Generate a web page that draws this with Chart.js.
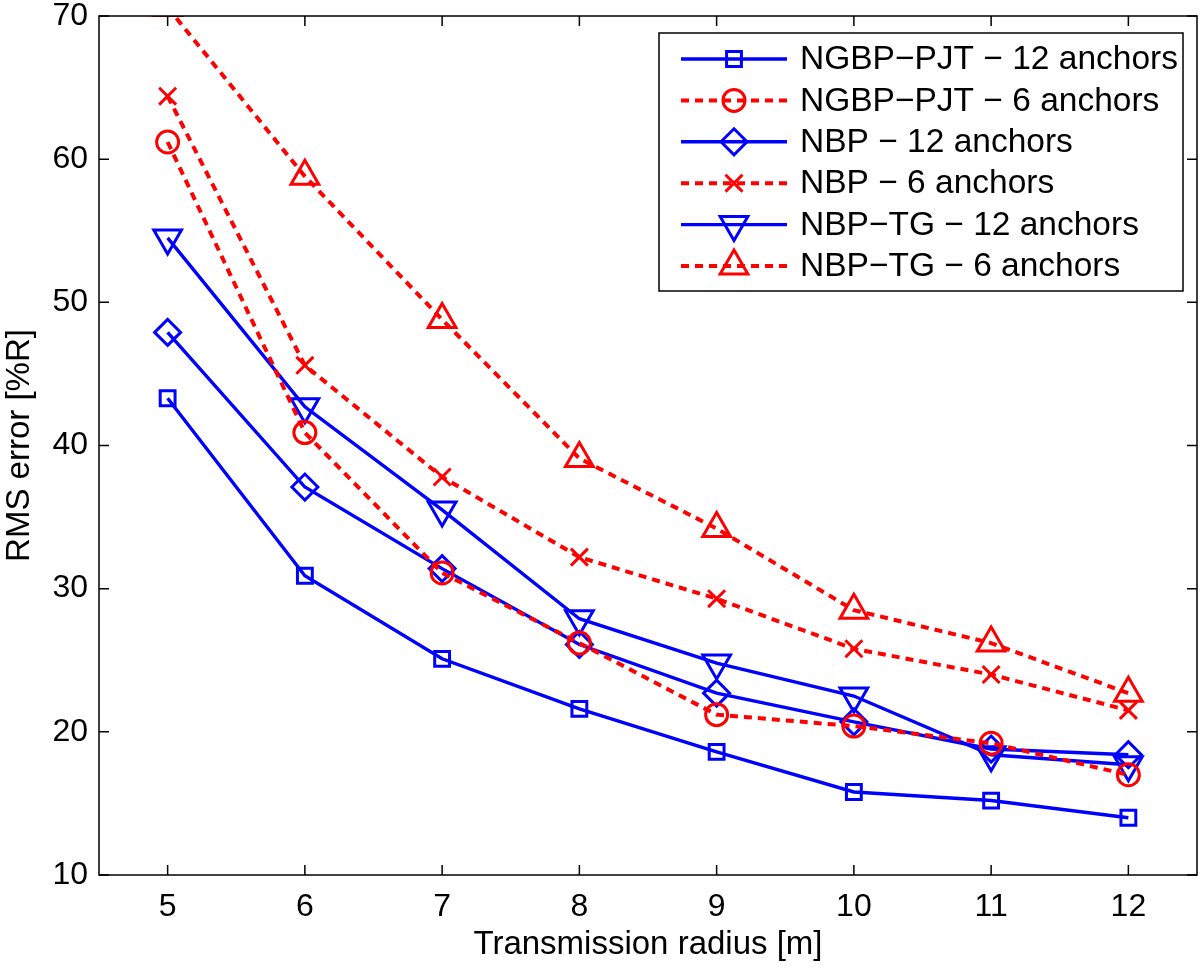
<!DOCTYPE html>
<html>
<head>
<meta charset="utf-8">
<script src="https://cdn.jsdelivr.net/npm/chart.js@4.4.0/dist/chart.umd.min.js"></script>
<style>
  html, body { margin: 0; padding: 0; background: #fff; overflow: hidden; }
  #wrap { width: 1200px; height: 972px; }
  #rms-chart { display: block; }
</style>
</head>
<body>
<div id="wrap"><canvas id="rms-chart"></canvas></div>
<script>
"use strict";

// data ---------------------------------------------
const radius = [5, 6, 7, 8, 9, 10, 11, 12];
const ngbpPjt12 = [43.3, 30.9, 25.1, 21.6, 18.6, 15.8, 15.2, 14.0];
const ngbpPjt6 = [61.2, 40.9, 31.1, 26.2, 21.2, 20.4, 19.2, 17.0];
const nbp12 = [47.9, 37.1, 31.4, 26.1, 22.7, 20.7, 18.8, 18.4];
const nbp6 = [64.4, 45.6, 37.8, 32.2, 29.3, 25.8, 24.0, 21.5];
const nbpTg12 = [54.5, 42.7, 35.5, 27.9, 24.8, 22.5, 18.4, 17.7];
const nbpTg6 = [70.6, 58.8, 48.8, 39.1, 34.2, 28.5, 26.2, 22.7];

const xTicks = [5, 6, 7, 8, 9, 10, 11, 12];
const yTicks = [10, 20, 30, 40, 50, 60, 70];

const FONT = '"Liberation Sans", Arial, Helvetica, sans-serif';
const BLUE = "#0000ff";
const RED = "#ff0000";

function makeSeries(label, values, color, dashed, style, size, rotation) {
  return {
    label: label,
    data: values.map(function (v, i) {
      return { x: radius[i], y: v };
    }),
    borderColor: color,
    borderWidth: dashed ? 4 : 3.4,
    borderDash: dashed ? [8, 6] : [],
    pointStyle: style,
    pointRadius: size,
    pointRotation: rotation || 0,
    pointBorderColor: color,
    pointBackgroundColor: "rgba(0,0,0,0)",
    pointBorderWidth: 3,
    tension: 0,
    clip: 0,
  };
}

const datasets = [
  makeSeries("NGBP\u2212PJT \u2212 12 anchors", ngbpPjt12, BLUE, false, "rect", 10.5),
  makeSeries("NGBP\u2212PJT \u2212 6 anchors", ngbpPjt6, RED, true, "circle", 11),
  makeSeries("NBP \u2212 12 anchors", nbp12, BLUE, false, "rectRot", 13),
  makeSeries("NBP \u2212 6 anchors", nbp6, RED, true, "crossRot", 12),
  makeSeries("NBP\u2212TG \u2212 12 anchors", nbpTg12, BLUE, false, "triangle", 16, 180),
  makeSeries("NBP\u2212TG \u2212 6 anchors", nbpTg6, RED, true, "triangle", 16),
];

// frame with inward ticks ---------------------------
const frameTicks = {
  id: "frameTicks",
  afterDraw(chart) {
    const ctx = chart.ctx;
    const a = chart.chartArea;
    const xs = chart.scales.x;
    const ys = chart.scales.y;
    const len = 10;
    ctx.save();
    ctx.strokeStyle = "#000";
    ctx.lineWidth = 1.5;
    ctx.setLineDash([]);
    ctx.strokeRect(a.left, a.top, a.right - a.left, a.bottom - a.top);
    ctx.beginPath();
    xTicks.forEach(function (v) {
      const px = xs.getPixelForValue(v);
      ctx.moveTo(px, a.bottom);
      ctx.lineTo(px, a.bottom - len);
      ctx.moveTo(px, a.top);
      ctx.lineTo(px, a.top + len);
    });
    yTicks.forEach(function (v) {
      const py = ys.getPixelForValue(v);
      ctx.moveTo(a.left, py);
      ctx.lineTo(a.left + len, py);
      ctx.moveTo(a.right, py);
      ctx.lineTo(a.right - len, py);
    });
    ctx.stroke();
    ctx.restore();
  },
};

// legend box inside the plot ------------------------
const legendBox = {
  id: "legendBox",
  afterDraw(chart) {
    const ctx = chart.ctx;
    const a = chart.chartArea;
    const w = 524;
    const h = 258;
    const x0 = a.right - 14 - w;
    const y0 = a.top + 17;
    const rowH = 41.4;

    ctx.save();
    ctx.fillStyle = "#fff";
    ctx.fillRect(x0, y0, w, h);
    ctx.strokeStyle = "#000";
    ctx.lineWidth = 1.5;
    ctx.strokeRect(x0, y0, w, h);

    chart.data.datasets.forEach(function (ds, i) {
      const cy = y0 + 26 + i * rowH;
      ctx.strokeStyle = ds.borderColor;
      ctx.lineWidth = ds.borderWidth;
      ctx.setLineDash(ds.borderDash);
      ctx.beginPath();
      ctx.moveTo(x0 + 22, cy);
      ctx.lineTo(x0 + 128, cy);
      ctx.stroke();

      ctx.setLineDash([]);
      ctx.lineWidth = ds.pointBorderWidth;
      ctx.fillStyle = "rgba(0,0,0,0)";
      Chart.helpers.drawPoint(
        ctx,
        {
          pointStyle: ds.pointStyle,
          rotation: ds.pointRotation,
          radius: ds.pointRadius,
          borderWidth: ds.pointBorderWidth,
        },
        x0 + 75,
        cy
      );

      ctx.fillStyle = "#000";
      ctx.font = "33.5px " + FONT;
      ctx.textAlign = "left";
      ctx.textBaseline = "middle";
      ctx.fillText(ds.label, x0 + 141, cy + 1);
    });
    ctx.restore();
  },
};

new Chart(document.getElementById("rms-chart"), {
  type: "line",
  data: { datasets: datasets },
  options: {
    responsive: true,
    maintainAspectRatio: false,
    animation: false,
    layout: {
      autoPadding: false,
      padding: { top: 16, right: 3, left: 0, bottom: 0 },
    },
    plugins: {
      legend: { display: false },
      tooltip: { enabled: false },
    },
    scales: {
      x: {
        type: "linear",
        min: 4.5,
        max: 12.5,
        grid: { display: false, drawTicks: false },
        border: { display: false },
        afterBuildTicks: function (scale) {
          scale.ticks = xTicks.map(function (v) {
            return { value: v };
          });
        },
        afterFit: function (scale) {
          scale.height = 97;
          scale.paddingLeft = 0;
          scale.paddingRight = 0;
        },
        ticks: {
          color: "#000",
          font: { family: FONT, size: 32 },
          padding: 13,
          maxRotation: 0,
          autoSkip: false,
        },
        title: {
          display: true,
          text: "Transmission radius [m]",
          color: "#000",
          font: { family: FONT, size: 33 },
          padding: { top: 0, bottom: 7 },
        },
      },
      y: {
        min: 10,
        max: 70,
        grid: { display: false, drawTicks: false },
        border: { display: false },
        afterBuildTicks: function (scale) {
          scale.ticks = yTicks.map(function (v) {
            return { value: v };
          });
        },
        afterFit: function (scale) {
          scale.width = 99;
          scale.paddingTop = 0;
          scale.paddingBottom = 0;
        },
        ticks: {
          color: "#000",
          font: { family: FONT, size: 32 },
          padding: 11,
        },
        title: {
          display: true,
          text: "RMS error [%R]",
          color: "#000",
          font: { family: FONT, size: 33 },
          padding: { top: 0, bottom: 0 },
        },
      },
    },
  },
  plugins: [frameTicks, legendBox],
});
</script>
</body>
</html>
